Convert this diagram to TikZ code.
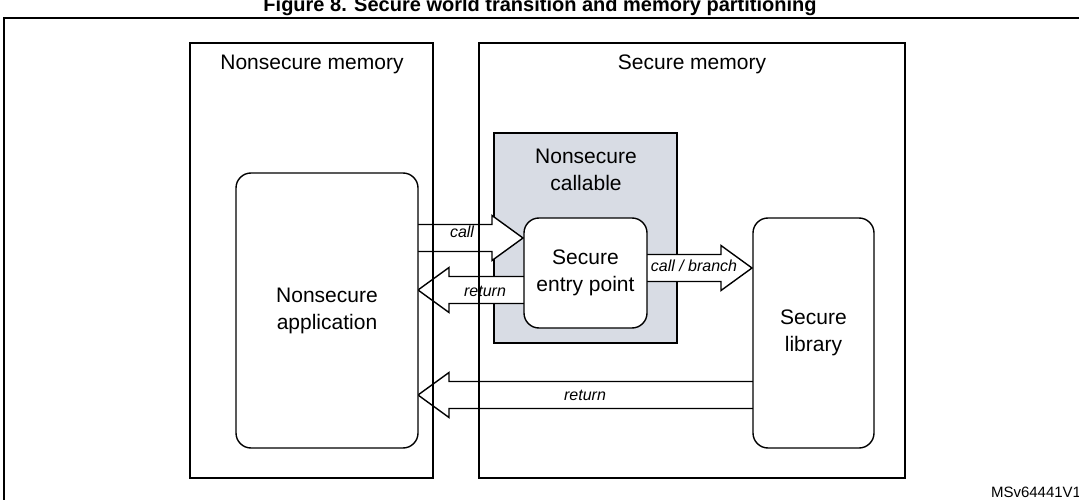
\documentclass[tikz,border=0pt]{standalone}
\usepackage{fontspec}
\setmainfont{Liberation Sans}
\usetikzlibrary{positioning}

\definecolor{callgray}{RGB}{216,220,228}

% fat arrow: from x, tip x, y, label
\newcommand\fatarrow[4]{%
  \pgfmathsetmacro\dirx{sign(#2-#1)}
  \draw[fill=white] (#1,#3-13.5) -- ({#2-31*\dirx},#3-13.5) -- ({#2-31*\dirx},#3-22.5)
        -- (#2,#3) -- ({#2-31*\dirx},#3+22.5) -- ({#2-31*\dirx},#3+13.5) -- (#1,#3+13.5);
}

\tikzset{
  mem/.style={draw,rectangle,minimum width=#1,inner sep=0},
  blk/.style={draw,fill=white,rounded corners=15pt,align=center,inner sep=0,
              font=\fontsize{21}{27}\selectfont},
  lbl/.style={font=\fontsize{21}{27}\selectfont,align=center,inner sep=0},
  arr/.style={font=\fontsize{16}{18}\selectfont\itshape,inner sep=0}
}

\begin{document}
\begin{tikzpicture}[x=1pt,y=-1pt,line width=1.4pt]
    \useasboundingbox (0,0) rectangle (1079,500);
    \clip (0,0) rectangle (1079,500);
    \node[font=\fontsize{20}{22}\selectfont\bfseries,anchor=base] (title) at (540,12)
        {Figure 8. Secure world transition and memory partitioning};
    \draw (4,18) rectangle (1090,510);
    % nonsecure callable region
    \fill[callgray] (494,133) rectangle (677,343);
    \draw (494,133) rectangle (677,343);
    % arrows
    \fatarrow{418}{523}{238}{}
    \fatarrow{524}{418}{290}{}
    \fatarrow{647}{752}{268}{}
    \fatarrow{753}{418}{395}{}
    % memory areas
    \draw (190,43) rectangle (433,478);
    \draw (479,43) rectangle (905,478);
    \node[lbl,anchor=base] (nsmem) at (312,70) {Nonsecure memory};
    \node[lbl,anchor=base] (smem) at (692,70) {Secure memory};
    \node[lbl] (nsc) at (586,170) {Nonsecure\\callable};
    % blocks
    \node[blk,minimum width=182pt,minimum height=275pt] (app) at (327,310.5)
        {Nonsecure\\application};
    \node[blk,minimum width=123pt,minimum height=110pt] (entry) at (585.5,273)
        {Secure\\entry point};
    \node[blk,minimum width=121pt,minimum height=230pt] (lib) at (813.5,333)
        {Secure\\library};
    % arrow labels
    \node[arr] (call) at (462,232) {call};
    \node[arr] (ret) at (485,291) {return};
    \node[arr] (branch) at (694,266) {call / branch};
    \node[arr] (ret2) at (585,395) {return};
    \node[font=\fontsize{15}{17}\selectfont,anchor=west] (id) at (987,492) {MSv64441V1};
\end{tikzpicture}
\end{document}
